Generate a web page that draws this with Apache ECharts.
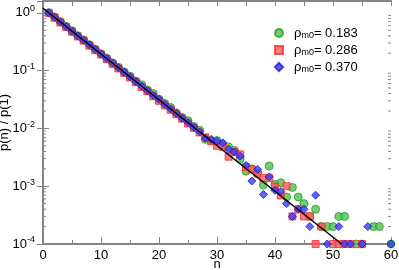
<!DOCTYPE html>
<html><head><meta charset="utf-8">
<script src="https://cdn.jsdelivr.net/npm/echarts@6/dist/echarts.min.js"></script>
<style>html,body{margin:0;padding:0;background:#fff}#c{width:399px;height:270px}</style>
</head><body><div id="c"></div>
<script>
var nValues = [1,2,3,4,5,6,7,8,9,10,11,12,13,14,15,16,17,18,19,20,21,22,23,24,25,26,27,28,29,30,
  31,32,33,34,35,36,37,38,39,40,41,42,43,44,45,46,47,48,49,50,51,52,53,54,55,56,57,58,59,60];
var green183 = [1.0,0.85,0.70,0.58,0.49,0.40,0.34,0.28,0.235,0.195,0.163,0.136,0.114,0.095,0.080,0.066,0.057,0.046,0.040,0.032,
  0.027,0.023,0.0185,0.0155,0.0135,0.0108,0.0093,0.00646,0.0062,0.00617,
  0.00525,0.00479,0.00417,0.00295,0.00182,0.0020,0.00166,0.00105,0.00224,0.00107,
  0.00115,0.00065,0.00095,0.00065,0.0005,0.0003,0.0004,0.0002,0.0002,0.0002,
  0.0003,0.0003,null,0.0001,0.0001,null,0.0002,0.0002,null,0.0001];
var red286 = [1.0,0.82,0.68,0.57,0.47,0.39,0.33,0.27,0.225,0.19,0.158,0.131,0.109,0.091,0.076,0.063,0.052,0.044,0.036,0.030,
  0.025,0.021,0.0176,0.0147,0.0122,0.0102,0.0085,0.0070,0.0060,0.0050,
  0.0048,0.00324,0.0039,0.00355,0.00214,0.00195,0.00166,0.00138,0.00138,0.00098,
  0.00069,0.0010,0.0003,0.0004,0.0003,0.0003,0.0001,0.0002,null,0.0001,
  0.0001,0.0001,0.0001,null,0.0001,null,null,null,null,null];
var blue370 = [1.0,0.84,0.70,0.58,0.48,0.40,0.335,0.28,0.233,0.194,0.162,0.135,0.112,0.094,0.078,0.065,0.054,0.045,0.0375,0.032,
  0.026,0.0217,0.0181,0.0151,0.0126,0.0105,0.0087,0.00676,0.00646,0.0060,
  0.00562,0.00437,0.0039,0.00331,0.00229,0.00123,0.00195,0.00072,0.00145,0.00085,
  0.00081,0.0005,0.0003,0.0004,0.0004,0.0002,0.0007,null,0.0001,null,
  0.0002,0.0001,0.0001,null,0.0001,0.0002,null,null,null,0.0001];
var fitN = [0, 51.5];
var fitP = [1.2, 0.0001];
var seriesNames = ['0.183','0.286','0.370'];

function pairs(xs, ys){var o=[];for(var i=0;i<xs.length;i++){if(ys[i]!=null)o.push([xs[i],ys[i]]);}return o;}
var minorVals=[];
for(var d=-4; d<=0; d++){for(var k=2;k<=9;k++){var v=k*Math.pow(10,d); if(v<1.6) minorVals.push([v]);}}

var chart = echarts.init(document.getElementById('c'), null, {renderer:'canvas'});
var axisGrey = '#858585';
var font = 'Liberation Sans, Arial, sans-serif';
function yFmt(v){
  var l = Math.log10(v), e = Math.round(l);
  if (Math.abs(l-e) > 1e-6) return '';
  return '10{sup|' + (e<0 ? '-'+(-e) : e) + '}';
}
chart.setOption({
  animation:false,
  backgroundColor:'#fff',
  grid:{left:43,right:8,top:1,bottom:26,containLabel:false,outerBoundsMode:'none'},
  legend:{
    orient:'vertical', left:269, top:21, itemWidth:8, itemHeight:8, itemGap:3,
    data:[seriesNames[0],seriesNames[1],seriesNames[2]],
    formatter:function(n){return 'ρ{sub|m0}= '+n;},
    textStyle:{fontFamily:font,fontSize:13,lineHeight:14,color:'#000',padding:[0,0,0,6],
      rich:{sub:{fontFamily:font,fontSize:9,lineHeight:14,color:'#000',padding:[5,0,0,0]}}}
  },
  xAxis:[{
    type:'value', min:0, max:60, interval:10, position:'bottom',
    name:'n', nameLocation:'middle', nameGap:14, nameMoveOverlap:false,
    nameTextStyle:{fontFamily:font,fontSize:13,color:'#000'},
    axisLine:{lineStyle:{color:axisGrey,width:2}},
    axisTick:{inside:true,length:7,lineStyle:{color:axisGrey,width:1}},
    minorTick:{show:true,splitNumber:2,length:4,lineStyle:{color:axisGrey,width:1}},
    axisLabel:{fontFamily:font,fontSize:13,color:'#000',margin:5},
    splitLine:{show:false}
  },{
    type:'value', min:0, max:60, interval:5, position:'top',
    axisLine:{lineStyle:{color:axisGrey,width:2}},
    axisTick:{inside:true,length:5,lineStyle:{color:axisGrey,width:1}},
    axisLabel:{show:false}, splitLine:{show:false}
  }],
  yAxis:[{
    type:'log', logBase:10, min:0.0001, max:1.6, position:'left',
    name:'p(n) / p(1)', nameLocation:'middle', nameGap:32, nameRotate:90, nameMoveOverlap:false,
    nameTextStyle:{fontFamily:font,fontSize:13,color:'#000'},
    axisLine:{lineStyle:{color:axisGrey,width:2}},
    axisTick:{inside:true,length:6,lineStyle:{color:axisGrey,width:1}},
    axisLabel:{fontFamily:font,fontSize:13,color:'#000',margin:8,formatter:yFmt,
      rich:{sup:{fontFamily:font,fontSize:9,color:'#000',padding:[0,0,8,0]}}},
    splitLine:{show:false}
  },{
    type:'log', logBase:10, min:0.0001, max:1.6, position:'right',
    axisLine:{lineStyle:{color:axisGrey,width:2}},
    axisTick:{inside:true,length:6,lineStyle:{color:axisGrey,width:1}},
    axisLabel:{show:false}, splitLine:{show:false}
  }],
  series:[
    {type:'custom', silent:true, xAxisIndex:0, yAxisIndex:0, data:minorVals, clip:false,
     renderItem:function(params, api){
       var a = api.coord([0, api.value(0)]);
       var b = api.coord([60, api.value(0)]);
       return {type:'group',children:[
         {type:'line',shape:{x1:a[0],y1:a[1],x2:a[0]+3,y2:a[1]},style:{stroke:axisGrey,lineWidth:1}},
         {type:'line',shape:{x1:b[0],y1:b[1],x2:b[0]-3,y2:b[1]},style:{stroke:axisGrey,lineWidth:1}}
       ]};
     },
     encode:{y:0}
    },
    {name:seriesNames[0], type:'scatter', symbol:'circle', symbolSize:8, clip:false,
     data:pairs(nValues, green183),
     itemStyle:{color:'#4ec24e',borderColor:'#2a9a2a',borderWidth:1}},
    {name:seriesNames[1], type:'scatter', symbol:'rect', symbolSize:7, clip:false,
     data:pairs(nValues, red286),
     itemStyle:{color:'#ff5a5a',borderColor:'#ff2a2a',borderWidth:1}},
    {name:seriesNames[2], type:'scatter', symbol:'diamond', symbolSize:8, clip:false,
     data:pairs(nValues, blue370),
     itemStyle:{color:'#3a3aff',borderColor:'#1a1acc',borderWidth:1}},
    {type:'line', data:pairs(fitN, fitP), symbol:'none', silent:true,
     lineStyle:{color:'#000',width:1.5}, z:5}
  ]
});
</script></body></html>
